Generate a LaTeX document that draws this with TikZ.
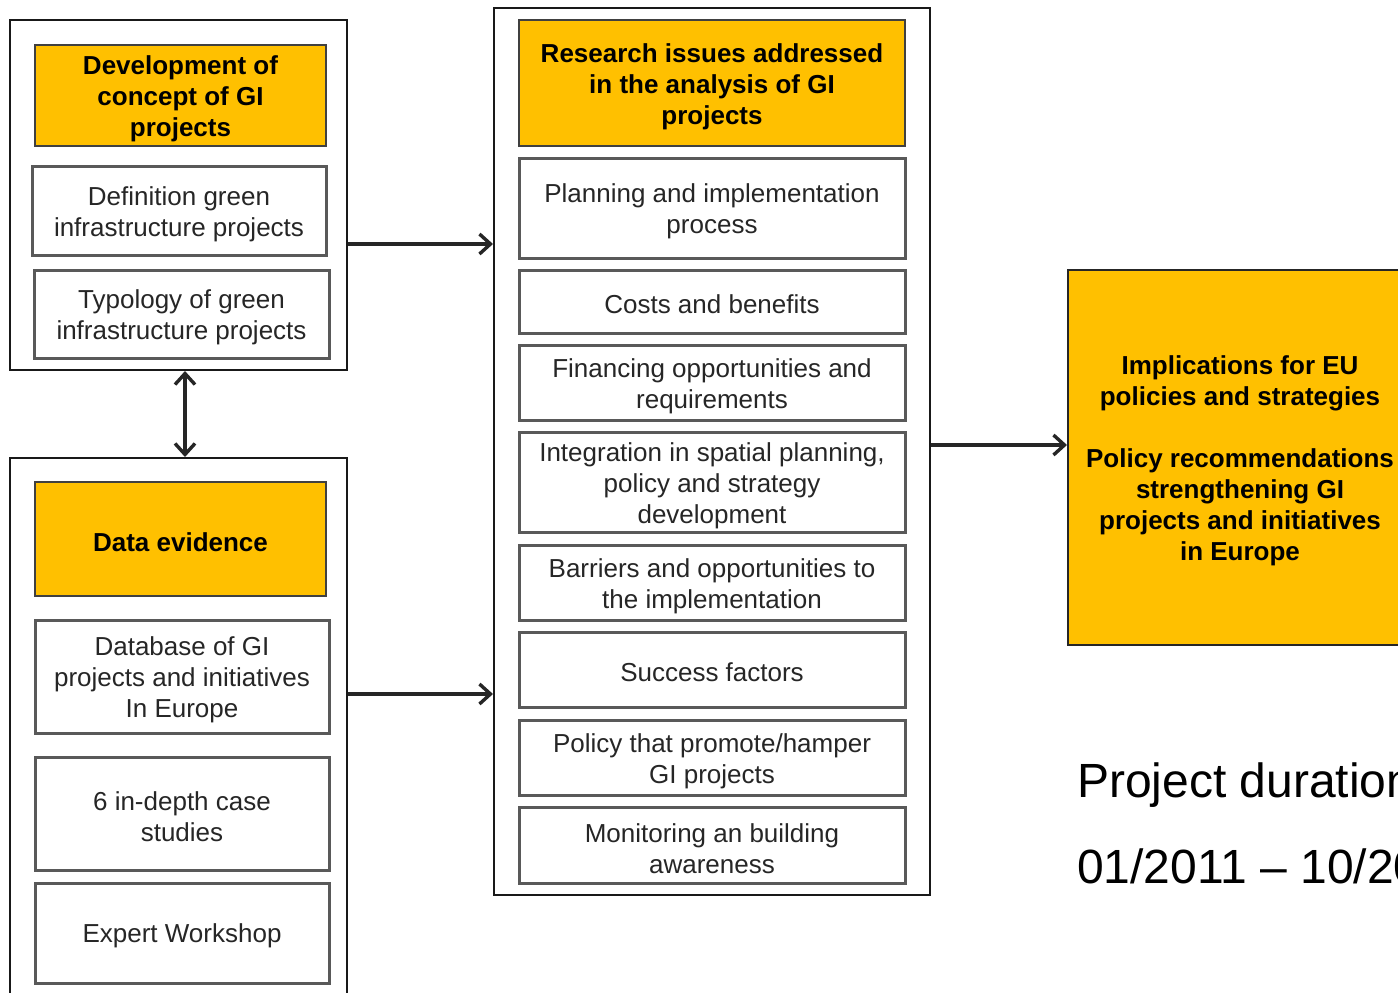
\documentclass[tikz,border=0pt]{standalone}
\usepackage{fontspec}
\setmainfont{Liberation Sans}
\usetikzlibrary{arrows.meta,calc}
\definecolor{gold}{HTML}{FFC000}
\begin{document}
\begin{tikzpicture}[x=1pt,y=-1pt,
  every node/.style={font=\fontsize{26}{31}\selectfont, text=black!85, inner sep=0pt},
  outer/.style={draw=black!90, line width=2pt, fill=white},
  % text heights per number of lines, so the text sits a little low in its box
  lone/.style={text height=25pt},
  ltwo/.style={text height=57pt},
  lthree/.style={text height=88pt},
  hdr/.style={draw=black!75, line width=2.2pt, fill=gold, align=center,
    font=\fontsize{26}{31}\selectfont\bfseries, text=black},
  item/.style={draw=black!65, line width=3pt, fill=white, align=center},
  >={Straight Barb[length=11pt,width=20pt,line width=3.4pt]},
  arr/.style={line width=3.4pt, draw=black!85, ->},
  darr/.style={line width=3.4pt, draw=black!85, <->}
]
\useasboundingbox (0,0) rectangle (1398,993);
\clip (0,0) rectangle (1398,993);
\fill[white] (0,0) rectangle (1398,993);

% left column: concept
\node[outer, minimum width=337pt, minimum height=350pt] (o1) at (178.5,195) {};
\node[hdr, lthree, minimum width=291pt, minimum height=101pt] (h1) at (180.5,95.5) {Development of\\concept of GI\\projects};
\node[item, ltwo, minimum width=294pt, minimum height=89pt] (def) at (179,210.5) {Definition green\\infrastructure projects};
\node[item, ltwo, minimum width=295pt, minimum height=88pt] (typ) at (181.5,314) {Typology of green\\infrastructure projects};

% left column: data
\node[outer, minimum width=337pt, minimum height=542pt] (o2) at (178.5,729) {};
\node[hdr, lone, minimum width=291pt, minimum height=114pt] (data) at (180.5,539) {Data evidence};
\node[item, lthree, minimum width=294pt, minimum height=113pt] (db) at (182,676.5) {Database of GI\\projects and initiatives\\In Europe};
\node[item, ltwo, minimum width=294pt, minimum height=113pt] (case) at (182,813.5) {6 in-depth case\\studies};
\node[item, lone, minimum width=294pt, minimum height=100pt] (exp) at (182,933) {Expert Workshop};

% middle column: research issues
\node[outer, minimum width=436pt, minimum height=887pt] (mid) at (712,451.5) {};
\node[hdr, lthree, minimum width=386pt, minimum height=126pt] (res) at (712,83) {Research issues addressed\\in the analysis of GI\\projects};
\node[item, ltwo, minimum width=386pt, minimum height=100pt] (plan) at (712,208) {Planning and implementation\\process};
\node[item, lone, minimum width=386pt, minimum height=63pt] (cost) at (712,301.5) {Costs and benefits};
\node[item, ltwo, minimum width=386pt, minimum height=75pt] (fin) at (712,382.5) {Financing opportunities and\\requirements};
\node[item, lthree, minimum width=386pt, minimum height=100pt] (integ) at (712,482) {Integration in spatial planning,\\policy and strategy\\development};
\node[item, ltwo, minimum width=386pt, minimum height=75pt] (bar) at (712,582.5) {Barriers and opportunities to\\the implementation};
\node[item, lone, minimum width=386pt, minimum height=75pt] (suc) at (712,669.5) {Success factors};
\node[item, ltwo, minimum width=386pt, minimum height=75pt] (pol) at (712,757.5) {Policy that promote/hamper\\GI projects};
\node[item, ltwo, minimum width=386pt, minimum height=76pt] (mon) at (712,845) {Monitoring an building\\awareness};

% right: implications
\node[hdr, text height=211pt, draw=black!85, line width=2pt, minimum width=344pt, minimum height=375pt] (impl) at (1240,457.5)
  {Implications for EU\\policies and strategies\\[31pt]Policy recommendations\\strengthening GI\\projects and initiatives\\in Europe};

% project duration
\node[anchor=base west, font=\fontsize{48}{56}\selectfont, text=black] (dur1) at (1077,797) {Project duration};
\node[anchor=base west, font=\fontsize{48}{56}\selectfont, text=black] (dur2) at (1077,883) {01/2011 -- 10/2012};

% connectors
\coordinate (a1) at ([yshift=-49pt]o1.east);
\coordinate (a2) at ([yshift=35pt]o2.east);
\coordinate (a3) at ([yshift=6.5pt]mid.east);
\draw[arr] (a1) -- (a1 -| mid.west);
\draw[arr] (a2) -- (a2 -| mid.west);
\draw[arr] (a3) -- (a3 -| impl.west);
\draw[darr] ([xshift=6.5pt]o1.south) -- ([xshift=6.5pt]o2.north);
\end{tikzpicture}
\end{document}
